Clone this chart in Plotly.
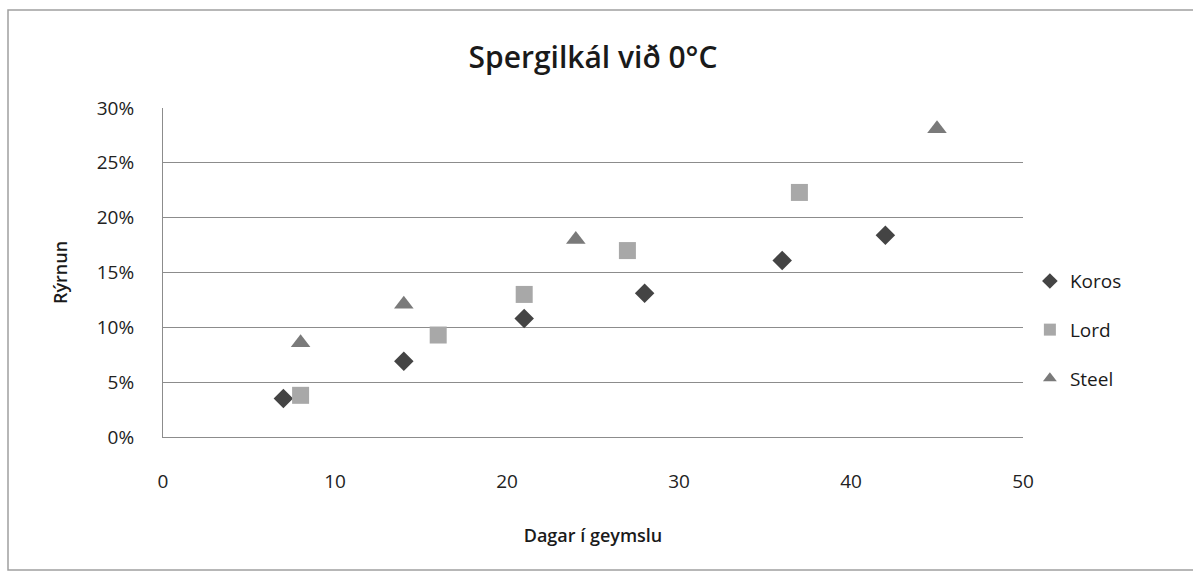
import plotly.graph_objects as go

# Storage days and shrinkage (fraction) per broccoli variety
koros_days = [7, 14, 21, 28, 36, 42]
koros_loss = [0.035, 0.069, 0.108, 0.131, 0.161, 0.184]

lord_days = [8, 16, 21, 27, 37]
lord_loss = [0.038, 0.093, 0.130, 0.170, 0.223]

steel_days = [8, 14, 24, 45]
steel_loss = [0.086, 0.121, 0.180, 0.281]

y_ticks = [0, 0.05, 0.10, 0.15, 0.20, 0.25, 0.30]
y_tick_text = ["0%", "5%", "10%", "15%", "20%", "25%", "30%"]
x_ticks = [0, 10, 20, 30, 40, 50]

font_family = "'Open Sans', Lato, sans-serif"

fig = go.Figure()
fig.add_trace(go.Scatter(
    x=koros_days, y=koros_loss, mode="markers", name="Koros", legendgroup="k",
    marker=dict(symbol="diamond", size=15, color="#444444"),
))
fig.add_trace(go.Scatter(
    x=lord_days, y=lord_loss, mode="markers", name="Lord", legendgroup="l",
    marker=dict(symbol="square", size=17, color="#a8a8a8"),
))
fig.add_trace(go.Scatter(
    x=steel_days, y=steel_loss, mode="markers", name="Steel", legendgroup="s",
    marker=dict(symbol="triangle-up", size=17, color="#7a7a7a"),
))

fig.update_layout(
    width=1193, height=578,
    margin=dict(l=163, r=170, t=108, b=141),
    paper_bgcolor="white", plot_bgcolor="white",
    font=dict(family=font_family, color="#1a1a1a"),
    title=dict(text="Spergilkál við 0°C", x=0.5, xref="paper", xanchor="center",
               y=1 - 57 / 578, yref="container", yanchor="middle",
               font=dict(size=30, color="#1a1a1a", weight=600)),
    showlegend=True,
    legend=dict(x=1.008, xanchor="left", y=0.325, yanchor="middle",
                font=dict(size=19, color="#1a1a1a"),
                itemsizing="constant", traceorder="grouped", tracegroupgap=21,
                bgcolor="rgba(0,0,0,0)"),
    xaxis=dict(range=[0, 50], tickvals=x_ticks, showgrid=False, zeroline=False,
               showline=True, linecolor="#8c8c8c", linewidth=1,
               ticks="", tickfont=dict(size=19, color="#222222"), ticklabelstandoff=27,
               title=dict(text="Dagar í geymslu", font=dict(size=18, weight=600),
                          standoff=36)),
    yaxis=dict(range=[0, 0.30], tickvals=y_ticks, ticktext=y_tick_text,
               showgrid=True, gridcolor="#8c8c8c", gridwidth=1, zeroline=False,
               showline=True, linecolor="#8c8c8c", linewidth=1,
               ticks="", tickfont=dict(size=19, color="#222222"), ticklabelstandoff=24,
               title=dict(text="Rýrnun", font=dict(size=18, weight=600), standoff=24)),
    shapes=[dict(type="rect", xref="paper", yref="paper",
                 x0=-155/860, x1=1162/860, y0=-133/329, y1=427/329,
                 line=dict(color="#a0a0a0", width=1.5), fillcolor="rgba(0,0,0,0)")],
)

fig.write_html("out.html")
